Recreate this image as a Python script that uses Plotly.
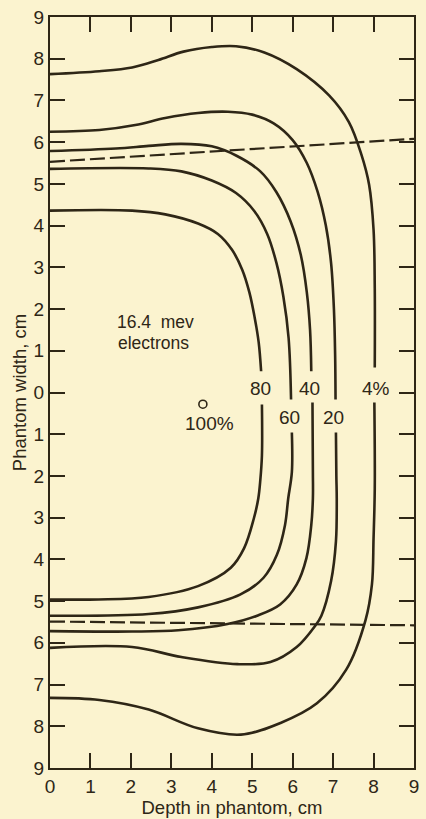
import plotly.graph_objects as go

# ---- data (depth cm, signed phantom width cm; negative = lower half) ----
c4_upper_x = [0, 1.22, 2.03, 2.68, 3.3, 4.0, 4.6, 5.3, 6.1, 6.9, 7.39, 7.7, 7.89, 8.0, 8.03, 8.03]
c4_upper_y = [7.63, 7.70, 7.79, 7.97, 8.17, 8.28, 8.30, 8.15, 7.75, 7.12, 6.48, 5.7, 4.98, 3.9, 2.5, 0.6]
c4_lower_x = [8.02, 8.03, 8.0, 7.96, 7.8, 7.32, 6.6, 5.7, 4.72, 3.66, 2.44, 1.22, 0]
c4_lower_y = [-0.24, -2.3, -3.49, -4.6, -5.46, -6.65, -7.45, -7.92, -8.2, -8.05, -7.6, -7.37, -7.32]

c20_upper_x = [0, 1.22, 2.11, 2.85, 3.66, 4.4, 5.0, 5.53, 6.0, 6.35, 6.62, 6.82, 6.95, 7.02, 7.05, 7.06]
c20_upper_y = [6.25, 6.29, 6.41, 6.58, 6.70, 6.73, 6.66, 6.45, 6.05, 5.5, 4.8, 4.0, 3.1, 2.0, 0.9, -0.17]
c20_lower_x = [7.07, 7.08, 7.09, 7.07, 6.95, 6.71, 6.55, 6.1, 5.45, 4.63, 3.25, 2.03, 0]
c20_lower_y = [-0.96, -2.0, -2.54, -3.57, -4.52, -5.35, -5.6, -6.1, -6.46, -6.51, -6.34, -6.1, -6.12]

c40_upper_x = [0, 1.63, 2.44, 3.25, 4.0, 4.6, 5.2, 5.6, 5.95, 6.2, 6.35, 6.43, 6.46]
c40_upper_y = [5.79, 5.85, 5.91, 5.96, 5.90, 5.68, 5.30, 4.8, 4.1, 3.3, 2.4, 1.5, 0.51]
c40_lower_x = [6.49, 6.50, 6.50, 6.46, 6.34, 6.10, 5.69, 5.12, 4.39, 3.17, 2.03, 0]
c40_lower_y = [-0.24, -1.91, -2.54, -3.18, -3.97, -4.6, -5.08, -5.35, -5.55, -5.70, -5.73, -5.72]

c60_upper_x = [0, 2.44, 3.25, 4.0, 4.6, 5.05, 5.37, 5.6, 5.77, 5.9, 5.96]
c60_upper_y = [5.36, 5.37, 5.30, 5.08, 4.78, 4.35, 3.80, 3.1, 2.3, 1.3, -0.17]
c60_lower_x = [5.98, 5.98, 5.89, 5.81, 5.61, 5.28, 4.71, 3.66, 2.44, 0]
c60_lower_y = [-0.96, -1.91, -2.54, -3.18, -3.89, -4.44, -4.84, -5.15, -5.31, -5.35]

c80_upper_x = [0, 2.03, 2.85, 3.66, 4.15, 4.5, 4.75, 4.93, 5.06, 5.16, 5.22]
c80_upper_y = [4.36, 4.36, 4.27, 4.05, 3.80, 3.42, 2.95, 2.4, 1.8, 1.2, 0.51]
c80_lower_x = [5.24, 5.24, 5.2, 5.15, 5.04, 4.80, 4.47, 3.66, 2.44, 1.2, 0]
c80_lower_y = [-0.29, -1.51, -2.1, -2.54, -3.02, -3.73, -4.2, -4.64, -4.9, -4.96, -4.96]

beam_upper_x = [0, 9]
beam_upper_y = [5.53, 6.08]
beam_lower_x = [0, 9]
beam_lower_y = [-5.49, -5.58]

label_text = ["80", "40", "4%", "60", "20", "100%"]
label_x = [5.2, 6.42, 8.05, 5.93, 7.02, 3.95]
label_y = [0.09, 0.09, 0.09, -0.59, -0.59, -0.74]

max_point_x = [3.78]
max_point_y = [-0.28]

tick_vals = list(range(-9, 10))
tick_text = [str(abs(v)) for v in tick_vals]
x_ticks = list(range(0, 10))

INK = "#2e2616"
BG = "#fbf3cf"
FONT = "Liberation Sans, Arial, sans-serif"

fig = go.Figure()

curves = [
    (c4_upper_x, c4_upper_y), (c4_lower_x, c4_lower_y),
    (c20_upper_x, c20_upper_y), (c20_lower_x, c20_lower_y),
    (c40_upper_x, c40_upper_y), (c40_lower_x, c40_lower_y),
    (c60_upper_x, c60_upper_y), (c60_lower_x, c60_lower_y),
    (c80_upper_x, c80_upper_y), (c80_lower_x, c80_lower_y),
]
for cx, cy in curves:
    fig.add_trace(go.Scatter(x=cx, y=cy, mode="lines",
                             line=dict(color=INK, width=2.6, shape="spline", smoothing=1.0),
                             hoverinfo="skip", showlegend=False))

for bx, by in [(beam_upper_x, beam_upper_y), (beam_lower_x, beam_lower_y)]:
    fig.add_trace(go.Scatter(x=bx, y=by, mode="lines",
                             line=dict(color=INK, width=2.2, dash="15px,5px"),
                             hoverinfo="skip", showlegend=False))

fig.add_trace(go.Scatter(x=max_point_x, y=max_point_y, mode="markers",
                         marker=dict(symbol="circle-open", size=8, color=INK, line=dict(width=1.6)),
                         hoverinfo="skip", showlegend=False))

for t, lx, ly in zip(label_text, label_x, label_y):
    fig.add_annotation(x=lx, y=ly, text=t, showarrow=False,
                       font=dict(family=FONT, size=19, color=INK),
                       xanchor="center", yanchor="middle")

fig.add_annotation(x=2.6, y=1.69, text="16.4  mev", showarrow=False,
                   font=dict(family=FONT, size=17.5, color=INK), xanchor="center", yanchor="middle")
fig.add_annotation(x=2.57, y=1.19, text="electrons", showarrow=False,
                   font=dict(family=FONT, size=17.5, color=INK), xanchor="center", yanchor="middle")

axis_common = dict(
    showline=True, linecolor=INK, linewidth=2, mirror="ticks",
    ticks="inside", ticklen=15, tickwidth=1.6, tickcolor=INK,
    showgrid=False, zeroline=False,
    tickfont=dict(family=FONT, size=19, color=INK),
)

fig.update_xaxes(range=[0, 9], tickvals=x_ticks, ticktext=[str(v) for v in x_ticks],
                 title=dict(text="Depth in phantom, cm", font=dict(family=FONT, size=18.5, color=INK), standoff=2),
                 **axis_common)
fig.update_yaxes(range=[-9, 9], tickvals=tick_vals, ticktext=tick_text,
                 title=dict(text="Phantom width, cm", font=dict(family=FONT, size=18.5, color=INK), standoff=2),
                 **axis_common)

fig.update_layout(
    width=426, height=819,
    margin=dict(l=50, r=7, t=14, b=47),
    paper_bgcolor=BG, plot_bgcolor=BG,
    font=dict(family=FONT, color=INK),
    showlegend=False,
)

fig.write_html("out.html")
